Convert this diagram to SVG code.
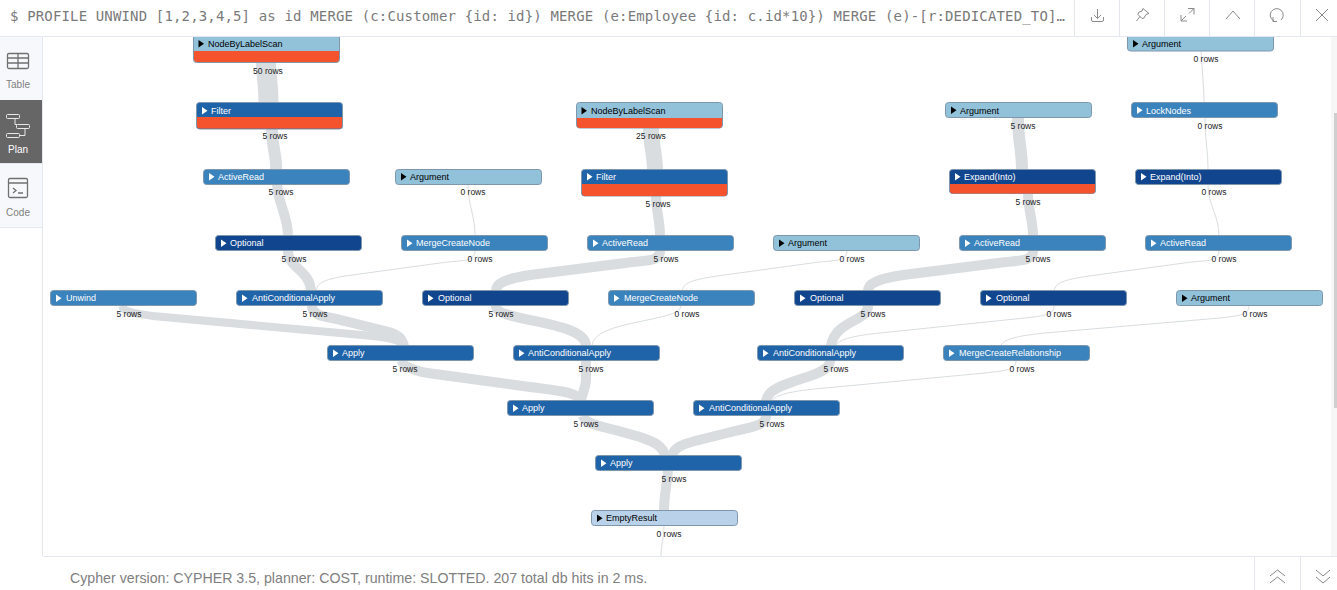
<svg xmlns="http://www.w3.org/2000/svg" width="1337" height="590" viewBox="0 0 1337 590">
<style>
text{font-family:"Liberation Sans",Arial,sans-serif}
.t{fill:none;stroke:#d9dde0}
.w8{stroke-width:8}.w10{stroke-width:10}.w12{stroke-width:12}.w16{stroke-width:16}.w20{stroke-width:20}
.f{fill:none;stroke:#d9dde0;stroke-width:1}
.n{stroke:#7f97ad;stroke-width:1}
.lb{fill:#92c1da}.er{fill:#bad2e9}.mb{fill:#3a83bc}.db{fill:#1f63a8}.nv{fill:#11468f}.rd{fill:#f4532e}
.l{font-size:9px;fill:#fff}.k{font-size:9px;fill:#000}
.wt{fill:#fff}.bt{fill:#000}
.r{font-size:8.500px;fill:#222;text-anchor:middle}
.ui{fill:none;stroke:#8a8a8a;stroke-width:1}
.ic{fill:none;stroke:#707070;stroke-width:1.300}
.dv{stroke:#e4e7ef;stroke-width:1;fill:none}
.sl{font-size:10px;text-anchor:middle;fill:#808080}
</style>
<rect width="1337" height="590" fill="#fff"/>
<g id="connectors">
<path class="t w20" d="M266 62C266 75 268.500 85 268.500 103"/>
<path class="t w12" d="M272 129C272 150 277 155 276 170"/>
<path class="t w10" d="M277 184C278 205 288 215 288 236"/>
<path class="t w10" d="M288 251C288 268 310 270 311 291"/>
<path class="t w8" d="M122 306C124 313 140 314 153 316L373 336C392 338 401 340 403 346"/>
<path class="t w10" d="M312 306C312 314 320 316 332 318L385 331C398 334 402 338 404 346"/>
<path class="f" d="M475 251C475 263 458 260 440 263L345 276C323 280 317 283 316 291"/>
<path class="f" d="M468 185C468 205 475 215 475 236"/>
<path class="t w16" d="M651 128C651 145 655 155 655 170"/>
<path class="t w10" d="M656 196C656 210 660 220 660 236"/>
<path class="t w10" d="M660 251C660 263 642 260 625 263L530 275C505 279 496 283 496 291"/>
<path class="t w10" d="M496 306C496 322 586 320 586 346"/>
<path class="f" d="M681 306C681 322 592 320 592 346"/>
<path class="f" d="M847 251C847 263 829 260 812 263L717 276C691 280 683 283 682 291"/>
<path class="t w10" d="M402 361C403 368 420 372 435 374L530 387C560 391 578 392 580 401"/>
<path class="t w10" d="M586 361V380C586 388 582 392 581 401"/>
<path class="t w10" d="M583 416C585 424 600 426 615 430L640 437C655 442 663 446 665 456"/>
<path class="t w10" d="M766 416C766 426 750 427 735 431L695 441C680 445 674 448 672 456"/>
<path class="t w10" d="M668 471C667 485 664 495 664 511"/>
<path class="f" d="M664 526C664 538 661 545 661 556"/>
<path class="t w12" d="M1018 118C1018 140 1022 150 1022 170"/>
<path class="t w10" d="M1028 193C1028 210 1033 220 1033 236"/>
<path class="t w10" d="M1033 251C1033 263 1015 260 998 263L903 275C878 279 868 283 868 291"/>
<path class="t w10" d="M868 306C868 322 835 320 831 346"/>
<path class="t w10" d="M830 361C830 372 808 376 792 382C775 388 768 392 766 401"/>
<path class="f" d="M1054 306C1054 316 1040 316 1025 318L880 333C850 336 838 340 836 346"/>
<path class="f" d="M1249 306C1249 316 1235 316 1220 318L1045 333C1015 336 1002 340 1001 346"/>
<path class="f" d="M1016 361C1016 371 1000 371 985 373L825 388C790 391 775 395 772 401"/>
<path class="f" d="M1219 251C1219 263 1201 260 1184 263L1089 276C1063 280 1055 283 1054 291"/>
<path class="f" d="M1201 51C1202 70 1204 85 1204 103"/>
<path class="f" d="M1205 118C1205 140 1208 150 1208 170"/>
<path class="f" d="M1208 185C1208 205 1219 215 1219 236"/>
</g>
<defs>
<polygon id="tw" class="wt" points="0,-0.500 0,7 5.500,3.250"/>
<polygon id="tb" class="bt" points="0,-0.500 0,7 5.500,3.250"/>
</defs>
<g id="n-nbls1"><rect class="n lb" x="193.500" y="28" width="146" height="34.500" rx="3"/><path class="rd" d="M194 51H339V59Q339 62 336 62H197Q194 62 194 59Z"/><use href="#tb" x="198.500" y="40.500"/><text class="k" x="208" y="47">NodeByLabelScan</text><text class="r" x="268" y="74">50 rows</text></g>
<g id="n-filter1"><rect class="n db" x="196.500" y="102.500" width="146" height="26.500" rx="3"/><path class="rd" d="M197 117H342V125.500Q342 128.500 339 128.500H200Q197 128.500 197 125.500Z"/><use href="#tw" x="202" y="107.500"/><text class="l" x="211" y="114">Filter</text><text class="r" x="275" y="139">5 rows</text></g>
<g id="n-activeread1"><rect class="n mb" x="203.500" y="169.500" width="146" height="15" rx="3"/><use href="#tw" x="209" y="173.500"/><text class="l" x="218" y="180">ActiveRead</text><text class="r" x="281" y="195">5 rows</text></g>
<g id="n-argument1"><rect class="n lb" x="395.500" y="169.500" width="146" height="15" rx="3"/><use href="#tb" x="401" y="173.500"/><text class="k" x="410" y="180">Argument</text><text class="r" x="473" y="195">0 rows</text></g>
<g id="n-nbls2"><rect class="n lb" x="576.500" y="102.500" width="146" height="25.500" rx="3"/><path class="rd" d="M577 118H722V125Q722 128 719 128H580Q577 128 577 125Z"/><use href="#tb" x="581.500" y="107.500"/><text class="k" x="591" y="114">NodeByLabelScan</text><text class="r" x="651" y="139">25 rows</text></g>
<g id="n-filter2"><rect class="n db" x="581.500" y="169.500" width="146" height="26.500" rx="3"/><path class="rd" d="M582 184H727V193Q727 196 724 196H585Q582 196 582 193Z"/><use href="#tw" x="587" y="173.500"/><text class="l" x="596" y="180">Filter</text><text class="r" x="658" y="207">5 rows</text></g>
<g id="n-argument2"><rect class="n lb" x="945.500" y="102.500" width="146" height="15" rx="3"/><use href="#tb" x="951" y="107"/><text class="k" x="960" y="114">Argument</text><text class="r" x="1023" y="129">5 rows</text></g>
<g id="n-expand1"><rect class="n nv" x="949.500" y="169.500" width="146" height="24" rx="3"/><path class="rd" d="M950 184H1095V190.500Q1095 193.500 1092 193.500H953Q950 193.500 950 190.500Z"/><use href="#tw" x="955" y="173.500"/><text class="l" x="964" y="180">Expand(Into)</text><text class="r" x="1028" y="205">5 rows</text></g>
<g id="n-argument3"><rect class="n lb" x="1127.500" y="28" width="146" height="23" rx="3"/><use href="#tb" x="1133" y="40.500"/><text class="k" x="1142" y="47">Argument</text><text class="r" x="1206" y="62">0 rows</text></g>
<g id="n-locknodes"><rect class="n mb" x="1131.500" y="102.500" width="146" height="15" rx="3"/><use href="#tw" x="1137" y="107"/><text class="l" x="1146" y="114">LockNodes</text><text class="r" x="1210" y="129">0 rows</text></g>
<g id="n-expand2"><rect class="n nv" x="1135.500" y="169.500" width="146" height="15" rx="3"/><use href="#tw" x="1141" y="173.500"/><text class="l" x="1150" y="180">Expand(Into)</text><text class="r" x="1214" y="195">0 rows</text></g>
<g id="n-optional1"><rect class="n nv" x="215.500" y="235.500" width="146" height="15" rx="3"/><use href="#tw" x="221" y="240"/><text class="l" x="230" y="246">Optional</text><text class="r" x="294" y="262">5 rows</text></g>
<g id="n-mcn1"><rect class="n mb" x="401.500" y="235.500" width="146" height="15" rx="3"/><use href="#tw" x="407" y="240"/><text class="l" x="416" y="246">MergeCreateNode</text><text class="r" x="480" y="262">0 rows</text></g>
<g id="n-activeread2"><rect class="n mb" x="587.500" y="235.500" width="146" height="15" rx="3"/><use href="#tw" x="593" y="240"/><text class="l" x="602" y="246">ActiveRead</text><text class="r" x="666" y="262">5 rows</text></g>
<g id="n-argument4"><rect class="n lb" x="773.500" y="235.500" width="146" height="15" rx="3"/><use href="#tb" x="779" y="240"/><text class="k" x="788" y="246">Argument</text><text class="r" x="852" y="262">0 rows</text></g>
<g id="n-activeread3"><rect class="n mb" x="959.500" y="235.500" width="146" height="15" rx="3"/><use href="#tw" x="965" y="240"/><text class="l" x="974" y="246">ActiveRead</text><text class="r" x="1038" y="262">5 rows</text></g>
<g id="n-activeread4"><rect class="n mb" x="1145.500" y="235.500" width="146" height="15" rx="3"/><use href="#tw" x="1151" y="240"/><text class="l" x="1160" y="246">ActiveRead</text><text class="r" x="1224" y="262">0 rows</text></g>
<g id="n-unwind"><rect class="n mb" x="50.500" y="290.500" width="146" height="15" rx="3"/><use href="#tw" x="56" y="295"/><text class="l" x="66" y="301">Unwind</text><text class="r" x="129" y="317">5 rows</text></g>
<g id="n-aca1"><rect class="n db" x="236.500" y="290.500" width="146" height="15" rx="3"/><use href="#tw" x="242" y="295"/><text class="l" x="252" y="301">AntiConditionalApply</text><text class="r" x="315" y="317">5 rows</text></g>
<g id="n-optional2"><rect class="n nv" x="422.500" y="290.500" width="146" height="15" rx="3"/><use href="#tw" x="428" y="295"/><text class="l" x="438" y="301">Optional</text><text class="r" x="501" y="317">5 rows</text></g>
<g id="n-mcn2"><rect class="n mb" x="608.500" y="290.500" width="146" height="15" rx="3"/><use href="#tw" x="614" y="295"/><text class="l" x="624" y="301">MergeCreateNode</text><text class="r" x="687" y="317">0 rows</text></g>
<g id="n-optional3"><rect class="n nv" x="794.500" y="290.500" width="146" height="15" rx="3"/><use href="#tw" x="800" y="295"/><text class="l" x="810" y="301">Optional</text><text class="r" x="873" y="317">5 rows</text></g>
<g id="n-optional4"><rect class="n nv" x="980.500" y="290.500" width="146" height="15" rx="3"/><use href="#tw" x="986" y="295"/><text class="l" x="996" y="301">Optional</text><text class="r" x="1059" y="317">0 rows</text></g>
<g id="n-argument5"><rect class="n lb" x="1176.500" y="290.500" width="146" height="15" rx="3"/><use href="#tb" x="1182" y="295"/><text class="k" x="1191" y="301">Argument</text><text class="r" x="1255" y="317">0 rows</text></g>
<g id="n-apply1"><rect class="n db" x="327.500" y="345.500" width="146" height="15" rx="3"/><use href="#tw" x="333" y="350"/><text class="l" x="342" y="356">Apply</text><text class="r" x="405" y="372">5 rows</text></g>
<g id="n-aca2"><rect class="n db" x="513.500" y="345.500" width="146" height="15" rx="3"/><use href="#tw" x="519" y="350"/><text class="l" x="528" y="356">AntiConditionalApply</text><text class="r" x="591" y="372">5 rows</text></g>
<g id="n-aca3"><rect class="n db" x="757.500" y="345.500" width="146" height="15" rx="3"/><use href="#tw" x="763" y="350"/><text class="l" x="773" y="356">AntiConditionalApply</text><text class="r" x="836" y="372">5 rows</text></g>
<g id="n-mcr"><rect class="n mb" x="943.500" y="345.500" width="146" height="15" rx="3"/><use href="#tw" x="949" y="350"/><text class="l" x="959" y="356">MergeCreateRelationship</text><text class="r" x="1022" y="372">0 rows</text></g>
<g id="n-apply2"><rect class="n db" x="507.500" y="400.500" width="146" height="15" rx="3"/><use href="#tw" x="513" y="405"/><text class="l" x="522" y="411">Apply</text><text class="r" x="586" y="427">5 rows</text></g>
<g id="n-aca4"><rect class="n db" x="693.500" y="400.500" width="146" height="15" rx="3"/><use href="#tw" x="699" y="405"/><text class="l" x="709" y="411">AntiConditionalApply</text><text class="r" x="772" y="427">5 rows</text></g>
<g id="n-apply3"><rect class="n db" x="595.500" y="455.500" width="146" height="15" rx="3"/><use href="#tw" x="601" y="460"/><text class="l" x="610" y="466">Apply</text><text class="r" x="674" y="482">5 rows</text></g>
<g id="n-emptyresult"><rect class="n er" x="591.500" y="510.500" width="146" height="15" rx="3"/><use href="#tb" x="597" y="515"/><text class="k" x="606" y="521">EmptyResult</text><text class="r" x="669" y="537">0 rows</text></g>

<rect x="1331" y="37" width="6" height="519" fill="#f7f7f7"/>
<rect x="1334" y="113" width="3" height="295" fill="#cfcfcf"/>
<rect x="0" y="0" width="1337" height="36" fill="#fff"/>
<path class="dv" d="M0 36.500H1337M1074.500 0V36M1119.500 0V36M1164.500 0V36M1209.500 0V36M1254.500 0V36M1300.500 0V36"/>
<text x="10" y="21" textLength="1055" lengthAdjust="spacing" style="font-family:'DejaVu Sans Mono','Liberation Mono',monospace;font-size:14px;fill:#7a7a7a">$ PROFILE UNWIND [1,2,3,4,5] as id MERGE (c:Customer {id: id}) MERGE (e:Employee {id: c.id*10}) MERGE (e)-[r:DEDICATED_TO]…</text>
<path class="ui" d="M1097.500 9V18M1094 15L1097.500 18.500L1101 15M1091.500 17V20Q1091.500 21.500 1093 21.500H1102Q1103.500 21.500 1103.500 20V17"/>
<path class="ui" d="M1143 8.500L1149 13.500L1146 14.500L1144 18L1142 18.500L1138 14.500L1138.500 12.500L1142 11ZM1140 16.500L1136.500 21"/>
<path class="ui" d="M1188 8.500H1194V14.500M1194 8.500L1189 13.500M1181 15V21H1187M1181 21L1186 16"/>
<path class="ui" d="M1226 19L1233 11L1240 19"/>
<path class="ui" d="M1274 21A6.500 6.500 0 1 1 1281 20M1273 17V21.500H1277"/>
<path class="ui" d="M1316 9L1328 21M1328 9L1316 21"/>

<rect x="0" y="37" width="42" height="519" fill="#fff"/>
<rect x="0" y="37" width="42" height="190" fill="#f7f8fb"/>
<rect x="0" y="100" width="42" height="63" fill="#666"/>
<path class="dv" d="M42.500 37V556M0 227.500H42M0 163.500H42"/>
<g class="ic"><rect x="7.500" y="53.500" width="21" height="15" rx="1.500"/><path d="M7.500 58H28.500M7.500 63H28.500M18 53.500V68.500"/></g>
<text class="sl" x="18" y="88">Table</text>
<g fill="none" stroke="#e8e8e8"><rect x="6.500" y="114.500" width="13" height="4" rx="1"/><rect x="16.500" y="124.500" width="13" height="4" rx="1"/><rect x="6.500" y="133.500" width="13" height="4" rx="1"/><path d="M15 118.500V124.500H17M25 128.500V135.500H20"/></g>
<text class="sl" x="18" y="153" style="fill:#fff">Plan</text>
<g class="ic"><rect x="8.500" y="178.500" width="19" height="19" rx="1.500"/><path d="M8.500 183H27.500M13 188L16 190.500L13 193M18 193H23"/></g>
<text class="sl" x="18" y="216">Code</text>

<rect x="0" y="557" width="1337" height="33" fill="#fff"/>
<path class="dv" d="M43 556.500H1337M1254.500 557V590M1300.500 557V590"/>
<text x="70" y="583" style="font-size:14.200px;fill:#808080">Cypher version: CYPHER 3.5, planner: COST, runtime: SLOTTED. 207 total db hits in 2 ms.</text>
<path class="ui" d="M1270 576L1277.500 570L1285 576M1270 583L1277.500 577L1285 583"/>
<path class="ui" d="M1316 570L1323 576L1330 570M1316 577L1323 583L1330 577"/>
</svg>
